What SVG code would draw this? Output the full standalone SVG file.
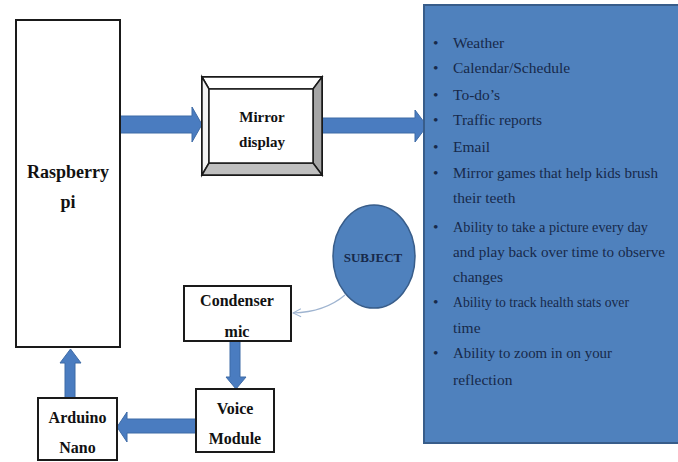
<svg xmlns="http://www.w3.org/2000/svg" width="678" height="462" viewBox="0 0 678 462">
<style>
.box{fill:#fff;stroke:#1a1a1a;stroke-width:2}
.lbl{font-family:"Liberation Serif","Times New Roman",Tinos,"DejaVu Serif",serif;font-weight:bold;fill:#111;text-anchor:middle}
.arr{fill:#4a7cc0;stroke:#3d6aa6;stroke-width:1}
.li{font-family:"Liberation Serif","Times New Roman",Tinos,"DejaVu Serif",serif;font-size:15.5px;fill:#17294a}
</style>
<defs>
<marker id="open" markerWidth="10" markerHeight="10" refX="9" refY="5" orient="auto" markerUnits="userSpaceOnUse">
<path d="M1,1 L9,5 L1,9" fill="none" stroke="#9fb4d0" stroke-width="1"/>
</marker>
</defs>
<rect width="678" height="462" fill="#fff"/>
<g id="connectors">
<polygon class="arr" points="120,116 192,116 192,107 202,124.5 192,142 192,133 120,133"/>
<polygon class="arr" points="322,118 415,118 415,110 427,126 415,142 415,133 322,133"/>
<polygon class="arr" points="230,341 240,341 240,377 246,377 236,389 226,377 230,377"/>
<polygon class="arr" points="196,419 127,419 127,412 117,427 127,442 127,433 196,433"/>
<polygon class="arr" points="65,398 65,363 60,363 70.5,349 81,363 75,363 75,398"/>
<path d="M345,295 Q325,312 293,313" fill="none" stroke="#9fb4d0" stroke-width="1.2" marker-end="url(#open)"/>
</g>
<g id="raspberry">
<rect class="box" x="16" y="20" width="104" height="327"/>
<text class="lbl" font-size="18" x="68" y="178">Raspberry</text>
<text class="lbl" font-size="18" x="68" y="208">pi</text>
</g>
<g id="mirror">
<rect x="202" y="77" width="120" height="98" fill="#fff" stroke="#1a1a1a" stroke-width="2"/>
<polygon points="202,77 322,77 313,89 209,89" fill="#fff" stroke="#1a1a1a" stroke-width="1.5"/>
<polygon points="202,77 209,89 209,163 202,175" fill="#f2f2f2" stroke="#1a1a1a" stroke-width="1.5"/>
<polygon points="322,77 322,175 313,163 313,89" fill="#a6a6a6" stroke="#1a1a1a" stroke-width="1.5"/>
<polygon points="202,175 209,163 313,163 322,175" fill="#bfbfbf" stroke="#1a1a1a" stroke-width="1.5"/>
<rect x="209" y="89" width="104" height="74" fill="#fff" stroke="#1a1a1a" stroke-width="1.5"/>
<text class="lbl" font-size="15" x="262" y="122">Mirror</text>
<text class="lbl" font-size="15" x="262" y="147">display</text>
</g>
<g id="features">
<rect x="424" y="5" width="260" height="438" fill="#4f81bd" stroke="#385d8a" stroke-width="2"/>
<g class="li">
<text x="433" y="48">•</text><text x="453" y="48">Weather</text>
<text x="433" y="73">•</text><text x="453" y="73">Calendar/Schedule</text>
<text x="433" y="100">•</text><text x="453" y="100">To-do’s</text>
<text x="433" y="125">•</text><text x="453" y="125">Traffic reports</text>
<text x="433" y="152">•</text><text x="453" y="152">Email</text>
<text x="433" y="178">•</text><text x="453" y="178" textLength="205" lengthAdjust="spacingAndGlyphs">Mirror games that help kids brush</text>
<text x="453" y="203">their teeth</text>
<text x="433" y="232">•</text><text x="453" y="232" textLength="195" lengthAdjust="spacingAndGlyphs">Ability to take a picture every day</text>
<text x="453" y="257" textLength="212" lengthAdjust="spacingAndGlyphs">and play back over time to observe</text>
<text x="453" y="282">changes</text>
<text x="433" y="307">•</text><text x="453" y="307" textLength="176" lengthAdjust="spacingAndGlyphs">Ability to track health stats over</text>
<text x="453" y="333">time</text>
<text x="433" y="358">•</text><text x="453" y="358" textLength="159" lengthAdjust="spacingAndGlyphs">Ability to zoom in on your</text>
<text x="453" y="385">reflection</text>
</g>
</g>
<g id="subject">
<ellipse cx="374" cy="256.5" rx="41" ry="51.5" fill="#4f81bd" stroke="#385d8a" stroke-width="1.5"/>
<text class="lbl" x="373" y="262" font-size="13" style="fill:#17294a">SUBJECT</text>
</g>
<g id="condenser">
<rect class="box" x="184" y="286" width="107" height="55"/>
<text class="lbl" font-size="16" x="237" y="306">Condenser</text>
<text class="lbl" font-size="16" x="237" y="337">mic</text>
</g>
<g id="voice">
<rect class="box" x="196" y="389" width="78" height="63"/>
<text class="lbl" font-size="16" x="235" y="414">Voice</text>
<text class="lbl" font-size="16" x="235" y="444">Module</text>
</g>
<g id="arduino">
<rect class="box" x="38" y="398" width="79" height="62"/>
<text class="lbl" font-size="16" x="77.5" y="423">Arduino</text>
<text class="lbl" font-size="16" x="77.5" y="453">Nano</text>
</g>
</svg>
